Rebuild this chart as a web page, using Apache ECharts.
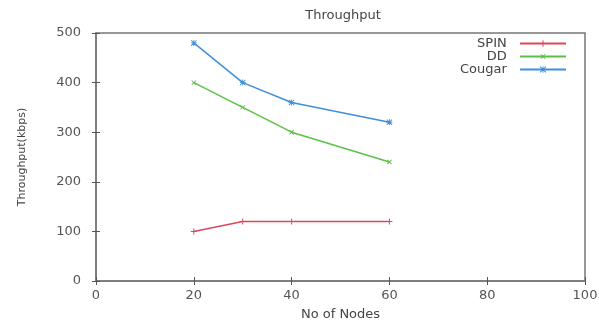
<!DOCTYPE html>
<html>
<head>
<meta charset="utf-8">
<script src="https://cdn.jsdelivr.net/npm/echarts@6/dist/echarts.min.js"></script>
<style>html,body{margin:0;padding:0;background:#fff}#c{width:599px;height:323px}</style>
</head>
<body>
<div id="c"></div>
<script>
var nodes = [20, 30, 40, 60];
var spin = [100, 120, 120, 120];
var dd = [400, 350, 300, 240];
var cougar = [480, 400, 360, 320];
var seriesNames = ['SPIN', 'DD', 'Cougar'];
var colors = ['#d9485c', '#5cc046', '#3f8fdb'];

var plusPath = 'path://M4.2,0H5.8V4.2H10V5.8H5.8V10H4.2V5.8H0V4.2H4.2Z';
var starPath = 'path://M4.3,0H5.7V4.3H10V5.7H5.7V10H4.3V5.7H0V4.3H4.3Z' +
  'M0,1.1L1.1,0L10,8.9L8.9,10Z M8.9,0L10,1.1L1.1,10L0,8.9Z';

function pairs(vals) { return nodes.map(function (n, i) { return [n, vals[i]]; }); }

var font = 'DejaVu Sans';
var txt = '#555';
var axisCol = '#777';

var chart = echarts.init(document.getElementById('c'), null, {renderer: 'canvas'});
function mkSeries(name, vals, color, symbol, rotate) {
  return {
    name: name, type: 'line', data: pairs(vals),
    symbol: symbol, symbolSize: 6, symbolRotate: rotate || 0,
    lineStyle: {color: color, width: 1.5},
    itemStyle: {color: color},
    xAxisIndex: 0, yAxisIndex: 0,
    animation: false
  };
}
chart.setOption({
  animation: false,
  backgroundColor: '#fff',
  title: {
    text: 'Throughput', left: 338, top: 4, textAlign: 'center',
    textStyle: {fontFamily: font, fontSize: 13, fontWeight: 'normal', color: '#444'}
  },
  legend: {
    data: seriesNames, orient: 'vertical', align: 'right',
    right: 27, top: 32, itemWidth: 46, itemHeight: 8, itemGap: 0,
    formatter: function (n) { return n + '  '; },
    textStyle: {fontFamily: font, fontSize: 13, color: '#444', lineHeight: 13}
  },
  grid: {left: 96, right: 14, top: 33, bottom: 42, show: true, borderColor: axisCol, borderWidth: 1.5,
         containLabel: false, outerBoundsMode: 'none'},
  xAxis: [{
    type: 'value', min: 0, max: 100, interval: 20,
    name: 'No of Nodes', nameLocation: 'middle', nameGap: 27,
    nameTextStyle: {fontFamily: font, fontSize: 13, color: '#444'},
    axisLine: {show: true, lineStyle: {color: axisCol, width: 1.5}},
    axisTick: {show: true, inside: true, length: 4, lineStyle: {color: '#555'}},
    axisLabel: {fontFamily: font, fontSize: 13, color: txt, margin: 8},
    splitLine: {show: false}
  }, {
    type: 'value', min: 0, max: 100, interval: 20, position: 'top',
    axisLine: {show: false},
    axisTick: {show: true, inside: true, length: 4, lineStyle: {color: '#555'}},
    axisLabel: {show: false}, splitLine: {show: false}
  }],
  yAxis: [{
    type: 'value', min: 0, max: 500, interval: 100,
    name: 'Throughput(kbps)', nameLocation: 'middle', nameGap: 68, nameRotate: 90,
    nameTextStyle: {fontFamily: font, fontSize: 11, color: '#444'},
    axisLine: {show: true, lineStyle: {color: axisCol, width: 1.5}},
    axisTick: {show: true, inside: true, length: 4, lineStyle: {color: '#555'}},
    axisLabel: {fontFamily: font, fontSize: 13, color: txt, margin: 15},
    splitLine: {show: false}
  }, {
    type: 'value', min: 0, max: 500, interval: 100, position: 'right',
    axisLine: {show: false},
    axisTick: {show: true, inside: true, length: 4, lineStyle: {color: '#555'}},
    axisLabel: {show: false}, splitLine: {show: false}
  }],
  series: [
    mkSeries(seriesNames[0], spin, colors[0], plusPath, 0),
    mkSeries(seriesNames[1], dd, colors[1], plusPath, 45),
    mkSeries(seriesNames[2], cougar, colors[2], starPath, 0)
  ]
});
</script>
</body>
</html>
